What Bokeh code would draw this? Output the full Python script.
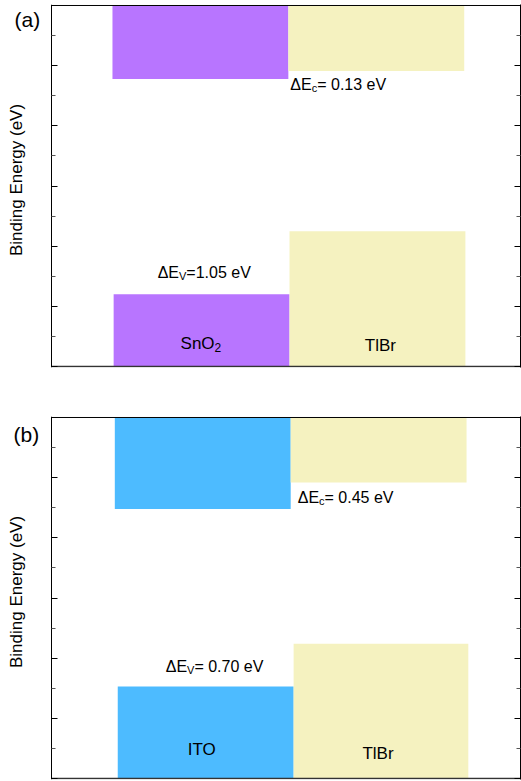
import math
from bokeh.plotting import figure
from bokeh.layouts import column
from bokeh.models import FixedTicker, LinearAxis, Label, Range1d, ColumnDataSource
from bokeh.embed import file_html
from bokeh.resources import INLINE

FONT = "Liberation Sans"

# ---------------- data ----------------
# panel (a): SnO2 / TlBr
a_names = ["SnO", "TlBr"]
a_subs = ["2", ""]
a_cb_left = [0.52, 2.02]
a_cb_right = [2.02, 3.52]
a_cb_bottom = [4.78, 4.91]
a_vb_left = [0.53, 2.03]
a_vb_right = [2.03, 3.53]
a_vb_top = [1.20, 2.25]
a_colors = ["#B875FF", "#F5F2C0"]
a_dEc = "0.13"
a_dEv = "1.05"

# panel (b): ITO / TlBr
b_names = ["ITO", "TlBr"]
b_subs = ["", ""]
b_cb_left = [0.54, 2.04]
b_cb_right = [2.04, 3.54]
b_cb_bottom = [4.48, 4.92]
b_vb_left = [0.565, 2.065]
b_vb_right = [2.065, 3.555]
b_vb_top = [1.53, 2.24]
b_colors = ["#4DBBFF", "#F5F2C0"]
b_dEc = "0.45"
b_dEv = "0.70"

# axes
X_MIN, X_MAX = 0.0, 4.0
Y_MIN, Y_MAX = 0.0, 6.0
y_major = [0, 1, 2, 3, 4, 5, 6]
y_minor = [0.5, 1.5, 2.5, 3.5, 4.5, 5.5]
Y_TITLE = "Binding Energy (eV)"

# ---------------- layout constants (pixels) ----------------
PX_PER_X = 117.25          # px per x unit
PX_PER_Y = 60.17           # px per y unit
LEFT_PAD = 51              # px between canvas left and x=0
FRAME_W = 520
FRAME_H = 363

# approximate advance widths (em) for Liberation Sans
ADV = {"Δ": 0.667, "E": 0.667, "V": 0.667, "c": 0.5, "S": 0.667, "n": 0.556,
       "O": 0.778, "=": 0.584, " ": 0.278, ".": 0.278, "e": 0.556, "2": 0.556,
       "I": 0.278, "T": 0.611, "l": 0.222, "B": 0.667, "r": 0.333}
for d in "0123456789":
    ADV[d] = 0.556


def tw(s, size):
    return sum(ADV.get(ch, 0.556) for ch in s) * size


def label(p, x, y, text, xo=0, yo=0, size=16, align="left", baseline="alphabetic", angle=0.0):
    p.add_layout(Label(x=x, y=y, x_offset=xo, y_offset=yo, text=text,
                       text_font=FONT, text_font_size=f"{size}px",
                       text_color="black", text_align=align,
                       text_baseline=baseline, angle=angle))


def sub_label(p, x, y, xo, yo, main, sub, rest, size=16, sub_size=11, sub_drop=4):
    label(p, x, y, main, xo, yo, size)
    w1 = tw(main, size)
    label(p, x, y, sub, xo + w1, yo - sub_drop, sub_size)
    w2 = tw(sub, sub_size)
    if rest:
        label(p, x, y, rest, xo + w1 + w2, yo, size)


def style_y_axis(ax):
    ax.ticker = FixedTicker(ticks=y_major, minor_ticks=y_minor)
    ax.major_label_text_font_size = "0px"
    ax.major_label_text_color = None
    ax.major_label_standoff = 0
    ax.major_tick_in = 6
    ax.major_tick_out = 0
    ax.minor_tick_in = 4
    ax.minor_tick_out = 0
    ax.axis_line_color = "black"
    ax.major_tick_line_color = "black"
    ax.minor_tick_line_color = "#555555"


def make_panel(top_border, bottom_border, cb_l, cb_r, cb_b, vb_l, vb_r, vb_t, colors):
    x_start = X_MIN - LEFT_PAD / PX_PER_X
    x_end = X_MAX
    y_start = Y_MIN - 1 / PX_PER_Y
    y_end = Y_MAX + 1 / PX_PER_Y
    p = figure(frame_width=FRAME_W, frame_height=FRAME_H,
               x_range=Range1d(x_start, x_end), y_range=Range1d(y_start, y_end),
               output_backend="svg", toolbar_location=None,
               min_border_left=0, min_border_right=1,
               min_border_top=top_border, min_border_bottom=bottom_border)
    p.grid.visible = False
    p.xaxis.visible = False
    p.background_fill_color = "white"
    p.border_fill_color = "white"
    p.outline_line_color = None

    cb = ColumnDataSource(dict(left=cb_l, right=cb_r, bottom=cb_b,
                               top=[Y_MAX] * len(cb_b), color=colors))
    vb = ColumnDataSource(dict(left=vb_l, right=vb_r, bottom=[Y_MIN] * len(vb_t),
                               top=vb_t, color=colors))
    p.quad(left="left", right="right", bottom="bottom", top="top",
           fill_color="color", line_color=None, source=cb)
    p.quad(left="left", right="right", bottom="bottom", top="top",
           fill_color="color", line_color=None, source=vb)

    # left axis at x = X_MIN
    ya = p.yaxis[0]
    style_y_axis(ya)
    ya.fixed_location = X_MIN

    # right axis at the frame's right edge
    ra = LinearAxis()
    style_y_axis(ra)
    p.add_layout(ra, "right")

    # frame lines: top, bottom, left
    p.segment(x0=[X_MIN], y0=[Y_MAX], x1=[X_MAX], y1=[Y_MAX],
              line_color="black", line_width=1)
    p.segment(x0=[X_MIN], y0=[Y_MIN], x1=[X_MAX], y1=[Y_MIN],
              line_color="#333333", line_width=1.5)
    p.segment(x0=[X_MIN], y0=[Y_MIN], x1=[X_MIN], y1=[Y_MAX],
              line_color="black", line_width=1)

    # y title
    label(p, X_MIN - 35 / PX_PER_X, (Y_MIN + Y_MAX) / 2 + 0.1, Y_TITLE,
          size=17, align="center", baseline="middle", angle=math.pi / 2)
    return p


# ---------------- panel (a) ----------------
pa = make_panel(4, 20, a_cb_left, a_cb_right, a_cb_bottom,
                a_vb_left, a_vb_right, a_vb_top, a_colors)
label(pa, X_MIN, Y_MAX, "(a)", -37, -14, 21)
sub_label(pa, a_vb_left[0], a_vb_top[0], 44, 22, "ΔE", "V", "=" + a_dEv + " eV")
sub_label(pa, a_cb_left[1], a_cb_bottom[1], 2, -13, "ΔE", "c", "= " + a_dEc + " eV")
cx0 = (a_vb_left[0] + a_vb_right[0]) / 2
sub_label(pa, cx0, Y_MIN, -21, 23, a_names[0], a_subs[0], "", size=17, sub_size=12)
cx1 = (a_vb_left[1] + a_vb_right[1]) / 2
label(pa, cx1, Y_MIN, a_names[1], 3, 21, 17, "center")

# ---------------- panel (b) ----------------
pb = make_panel(29, 2, b_cb_left, b_cb_right, b_cb_bottom,
                b_vb_left, b_vb_right, b_vb_top, b_colors)
label(pb, X_MIN, Y_MAX, "(b)", -38, -17, 21)
sub_label(pb, b_vb_left[0], b_vb_top[0], 48, 20, "ΔE", "V", "= " + b_dEv + " eV")
sub_label(pb, b_cb_left[1], b_cb_bottom[1], 7, -15, "ΔE", "c", "= " + b_dEc + " eV")
cxb0 = (b_vb_left[0] + b_vb_right[0]) / 2
label(pb, cxb0, Y_MIN, b_names[0], -4, 29, 17, "center")
cxb1 = (b_vb_left[1] + b_vb_right[1]) / 2
label(pb, cxb1, Y_MIN, b_names[1], -3, 25, 17, "center")

layout = column(pa, pb, spacing=0)
open("out.html", "w").write(file_html(layout, INLINE))
